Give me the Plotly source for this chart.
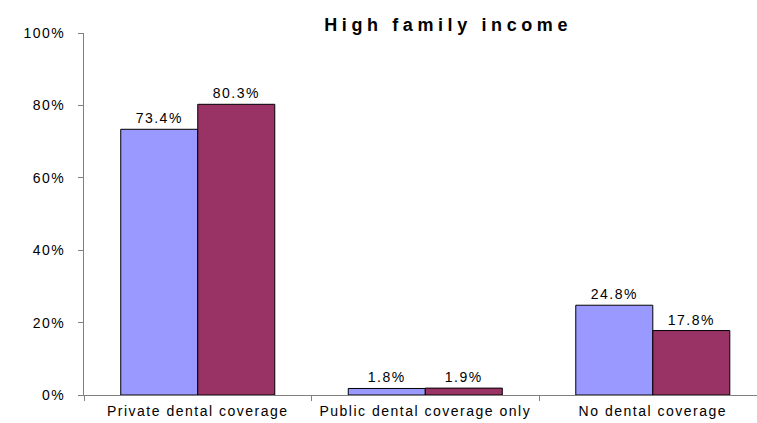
import plotly.graph_objects as go

categories = ["Private dental coverage", "Public dental coverage only", "No dental coverage"]
series_a = [73.4, 1.8, 24.8]
series_b = [80.3, 1.9, 17.8]
y_ticks = [0, 20, 40, 60, 80, 100]
y_tick_labels = ["0%", "20%", "40%", "60%", "80%", "100%"]

font = "Liberation Sans, Arial, sans-serif"

fig = go.Figure()
fig.add_trace(go.Bar(
    x=categories, y=series_a, name="Series A",
    marker=dict(color="#9999FF", line=dict(color="black", width=1)),
    texttemplate="%{y:.1f}%", textposition="outside",
    textfont=dict(family=font, size=14, color="black"),
    cliponaxis=False,
))
fig.add_trace(go.Bar(
    x=categories, y=series_b, name="Series B",
    marker=dict(color="#993366", line=dict(color="black", width=1)),
    texttemplate="%{y:.1f}%", textposition="outside",
    textfont=dict(family=font, size=14, color="black"),
    cliponaxis=False,
))

fig.update_layout(
    width=757, height=423,
    margin=dict(l=84, r=0, t=33, b=28),
    paper_bgcolor="white", plot_bgcolor="white",
    showlegend=False,
    barmode="group", bargap=0.323, bargroupgap=0,
    font=dict(family=font, size=14, color="black"),
    title=dict(text="<b>High family income</b>", x=0.592, xanchor="center",
               y=0.942, yanchor="middle",
               font=dict(family=font, size=18, color="black")),
)
fig.update_xaxes(
    range=[-0.5, 2.458], showline=True, linecolor="#808080", linewidth=1,
    ticks="outside", tickson="boundaries", ticklen=5, tickcolor="#808080",
    showgrid=False, tickfont=dict(size=14), ticklabelstandoff=3,
)
fig.update_yaxes(
    range=[0, 100], tickvals=y_ticks, ticktext=y_tick_labels,
    showline=True, linecolor="#808080", linewidth=1,
    ticks="outside", ticklen=5, tickcolor="#808080",
    showgrid=False, zeroline=False, tickfont=dict(size=14),
    ticklabelstandoff=10,
)

# old-style spaced lettering, and no page margin around the chart
spacing_js = """
document.body.style.margin = '0';
document.querySelectorAll('svg text').forEach(function(t){
  if (t.classList.contains('gtitle')) { t.style.letterSpacing = '4.6px'; }
  else { t.style.letterSpacing = '1.5px'; }
});
"""

fig.write_html("out.html", post_script=spacing_js,
               config={"displayModeBar": False})
